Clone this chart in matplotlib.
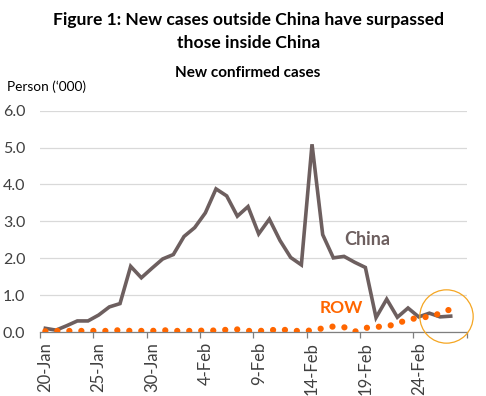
import matplotlib
matplotlib.use("Agg")
import matplotlib.pyplot as plt
import numpy as np

dates = ["20-Jan","21-Jan","22-Jan","23-Jan","24-Jan","25-Jan","26-Jan","27-Jan","28-Jan","29-Jan",
         "30-Jan","31-Jan","1-Feb","2-Feb","3-Feb","4-Feb","5-Feb","6-Feb","7-Feb","8-Feb",
         "9-Feb","10-Feb","11-Feb","12-Feb","13-Feb","14-Feb","15-Feb","16-Feb","17-Feb","18-Feb",
         "19-Feb","20-Feb","21-Feb","22-Feb","23-Feb","24-Feb","25-Feb","26-Feb","27-Feb","28-Feb"]

china = [0.10, 0.05, 0.17, 0.30, 0.30, 0.46, 0.68, 0.77, 1.78, 1.47,
         1.73, 1.98, 2.10, 2.59, 2.83, 3.23, 3.88, 3.69, 3.14, 3.40,
         2.66, 3.06, 2.48, 2.02, 1.82, 5.09, 2.64, 2.01, 2.05, 1.89,
         1.75, 0.39, 0.89, 0.40, 0.65, 0.41, 0.51, 0.41, 0.43]

row = [0.02, 0.03, 0.03, 0.03, 0.03, 0.03, 0.03, 0.05, 0.03, 0.03,
       0.03, 0.05, 0.03, 0.03, 0.03, 0.04, 0.04, 0.06, 0.07, 0.03,
       0.03, 0.04, 0.08, 0.03, 0.03, 0.04, 0.10, 0.15, 0.13, 0.01,
       0.11, 0.14, 0.15, 0.23, 0.34, 0.38, 0.42, 0.50, 0.62]

yticks = [0.0, 1.0, 2.0, 3.0, 4.0, 5.0, 6.0]
label_idx = [0, 5, 10, 15, 20, 25, 30, 35]

FONT = "Lato"
plt.rcParams['font.family'] = [FONT, 'DejaVu Sans']

fig = plt.figure(figsize=(4.86, 3.96), dpi=100)
ax = fig.add_axes([40/486, 1-332/396, 426.7/486, (332-110.7)/396])

x_china = np.arange(len(china))
x_row = np.arange(len(row))

ax.plot(x_china, china, color='#6D5F5F', lw=2.6, solid_joinstyle='miter', zorder=3)
ax.plot(x_row, row, color='#FF6600', lw=4.5, linestyle=(0, (0.01, 1.91)),
        dash_capstyle='round', zorder=4)

# highlight circle
ax.plot([37.6], [0.43], marker='o', ms=38.4, mfc='none', mec='#F5A623', mew=0.9,
        zorder=5, clip_on=False)

ax.set_xlim(-0.5, len(dates) - 0.5)
ax.set_ylim(0, 6.0)

ax.set_yticks(yticks)
ax.set_yticklabels([f"{v:.1f}" for v in yticks])
ax.yaxis.grid(True, color='#D9D9D9', lw=0.9)
ax.set_axisbelow(True)

ax.set_xticks(np.arange(-0.5, len(dates), 5))
ax.set_xticklabels([])
ax.set_xticks(label_idx, minor=True)
ax.set_xticklabels([dates[i] for i in label_idx], minor=True, rotation=90,
                   fontsize=12, color='#404040')
ax.tick_params(axis='x', which='major', length=4, width=0.9, color='#7F7F7F', direction='out')
ax.tick_params(axis='x', which='minor', length=0, pad=7)
ax.tick_params(axis='y', length=0, pad=10.5, labelsize=11.5, labelcolor='#404040')

for s in ['top', 'right', 'left']:
    ax.spines[s].set_visible(False)
ax.spines['bottom'].set_color('#7F7F7F')
ax.spines['bottom'].set_linewidth(0.9)

ax.text(30.2, 2.52, "China", color='#6D5F5F', fontsize=13, fontweight='bold',
        ha='center', va='center')
ax.text(27.7, 0.65, "ROW", color='#FF6600', fontsize=12.5, fontweight='bold',
        ha='center', va='center')

fig.text(249/486, 1-20/396, "Figure 1: New cases outside China have surpassed",
         ha='center', va='center', fontsize=12.6, fontweight='bold', color='black')
fig.text(249/486, 1-43/396, "those inside China",
         ha='center', va='center', fontsize=12.6, fontweight='bold', color='black')
fig.text(248/486, 1-73/396, "New confirmed cases",
         ha='center', va='center', fontsize=11, fontweight='bold', color='black')
fig.text(7/486, 1-87/396, "Person (\u2018000)",
         ha='left', va='center', fontsize=9.8, color='black')

fig.savefig("out.png", dpi=100)
